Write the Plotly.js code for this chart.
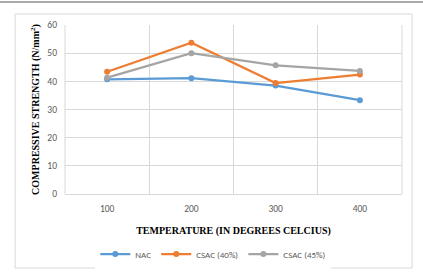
<!DOCTYPE html>
<html>
<head>
<meta charset="utf-8">
<script src="https://cdn.plot.ly/plotly-3.0.1.min.js"></script>
<style>
html,body{margin:0;padding:0;background:#fff;}
#chart{width:423px;height:278px;}
</style>
</head>
<body>
<div id="chart"></div>
<script>
const temperatures = [100, 200, 300, 400];
const tickLabels = ['100', '200', '300', '400'];
const nac = [40.7, 41.1, 38.5, 33.3];
const csac40 = [43.4, 53.7, 39.4, 42.4];
const csac45 = [41.3, 50.0, 45.7, 43.7];
const seriesNames = ['NAC', 'CSAC (40%)', 'CSAC (45%)'];
const seriesColors = ['#5B9BD5', '#ED7D31', '#A5A5A5'];

const tickFont = {family: 'Carlito, Lato, "Liberation Sans", sans-serif', size: 9.5, color: '#595959'};
const legendFont = {family: 'Carlito, Lato, "Liberation Sans", sans-serif', size: 9, color: '#595959'};
const titleFont = {family: '"Liberation Serif", "Times New Roman", serif', size: 10, color: '#000', weight: 'bold'};

const traces = [nac, csac40, csac45].map((vals, i) => ({
  type: 'scatter',
  mode: 'lines+markers',
  x: temperatures,
  y: vals,
  name: seriesNames[i],
  line: {color: seriesColors[i], width: 2.25},
  marker: {color: seriesColors[i], size: 6}
}));

const layout = {
  width: 423, height: 278,
  margin: {l: 65, r: 21, t: 25, b: 84},
  paper_bgcolor: '#fff', plot_bgcolor: '#fff',
  showlegend: true,
  legend: {orientation: 'h', x: 0.44, xanchor: 'center', xref: 'paper',
           yref: 'container', y: 0.086, yanchor: 'middle',
           font: legendFont, tracegroupgap: 0},
  xaxis: {
    type: 'linear', range: [50, 450],
    tickmode: 'array', tickvals: temperatures, ticktext: tickLabels,
    showgrid: false,
    minor: {tickmode: 'linear', tick0: 50, dtick: 100, showgrid: true,
            gridcolor: '#d9d9d9', gridwidth: 1, ticks: ''},
    showline: true, linecolor: '#d9d9d9', mirror: false, zeroline: false,
    ticks: '', tickfont: tickFont, ticklabelstandoff: 6,
    automargin: false,
    title: {text: 'TEMPERATURE (IN DEGREES CELCIUS)', font: titleFont, standoff: 12},
    fixedrange: true
  },
  yaxis: {
    range: [0, 60], dtick: 10,
    showgrid: true, gridcolor: '#d9d9d9', gridwidth: 1,
    zeroline: false, showline: false,
    ticks: '', tickfont: tickFont, ticklabelstandoff: 7,
    automargin: false,
    title: {text: 'COMPRESSIVE STRENGTH (N/mm<sup>2</sup>)', font: titleFont, standoff: 5},
    fixedrange: true
  },
  shapes: [
    {type: 'rect', xref: 'paper', yref: 'paper', x0: -0.148, x1: 1.03, y0: -0.438, y1: 1.065,
     line: {color: '#d9d9d9', width: 1}, layer: 'below'},
    {type: 'line', xref: 'paper', yref: 'paper', x0: -0.2, x1: 1.1, y0: 1.136, y1: 1.136,
     line: {color: '#8c8c8c', width: 1.5}},
    {type: 'line', xref: 'paper', yref: 'paper', x0: 0, x1: 0, y0: 0, y1: 1,
     line: {color: '#d9d9d9', width: 1}},
    {type: 'line', xref: 'paper', yref: 'paper', x0: 1, x1: 1, y0: 0, y1: 1,
     line: {color: '#d9d9d9', width: 1}}
  ]
};

Plotly.newPlot('chart', traces, layout, {displayModeBar: false, staticPlot: true});
</script>
</body>
</html>
